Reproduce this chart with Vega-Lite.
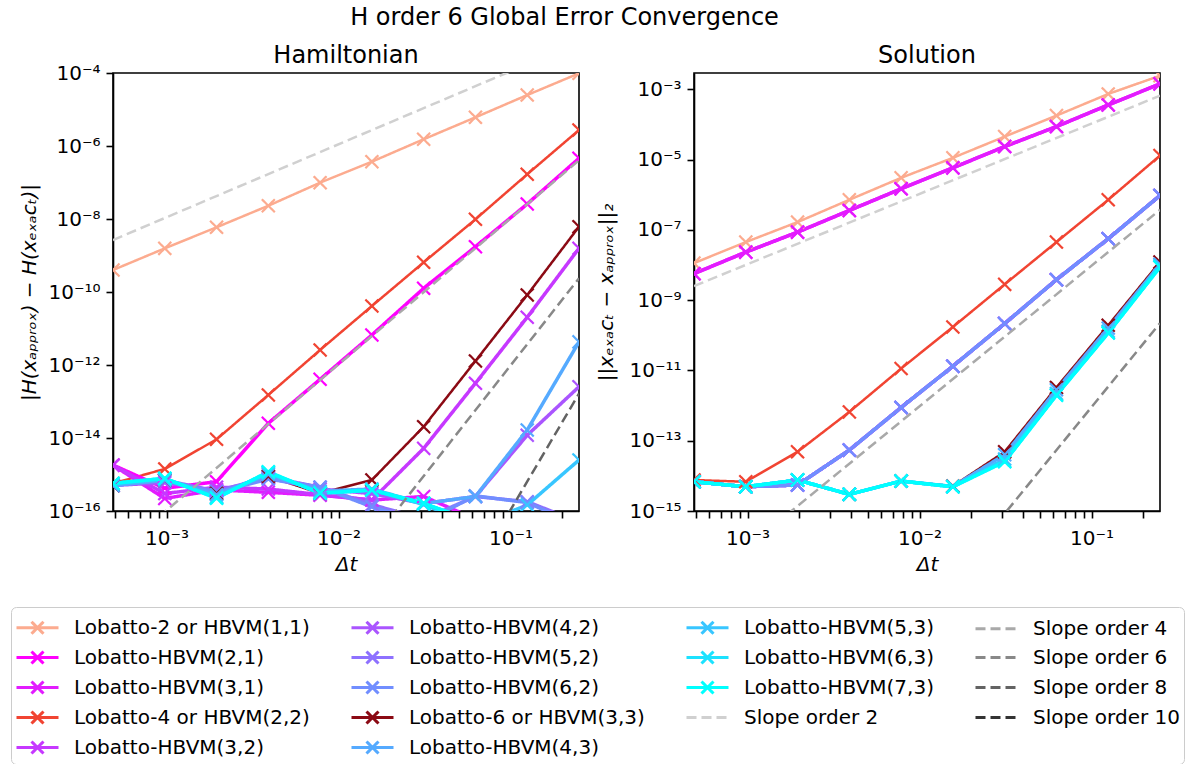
{
"$schema": "https://vega.github.io/schema/vega-lite/v6.json",
"background": "white",
"padding": {"left": 10, "top": 6, "right": 0, "bottom": 0},
"bounds": "flush",
"spacing": 115,
"title": {"text": "H order 6 Global Error Convergence", "fontSize": 24, "font": "DejaVu Sans", "fontWeight": "normal", "anchor": "middle", "dx": -33, "offset": 13, "color": "black"},
"config": {
  "font": "DejaVu Sans",
  "view": {"stroke": "black", "strokeWidth": 1.6},
  "axis": {"domainColor": "black", "domainWidth": 1.6, "tickColor": "black", "tickWidth": 1.6, "tickSize": 7, "labelFontSize": 20, "labelFont": "DejaVu Sans", "labelColor": "black", "titleFontSize": 20, "titleFont": "DejaVu Sans", "titleFontWeight": "normal", "titleColor": "black", "grid": false, "labelPadding": 6, "labelOverlap": false, "labelFlush": false},
  "title": {"fontSize": 24, "fontWeight": "normal", "font": "DejaVu Sans", "color": "black"}
},
"datasets": {
"H": [
{"series":"Lobatto-2 or HBVM(1,1)","dt":0.00048828125,"err":4.0e-10},{"series":"Lobatto-2 or HBVM(1,1)","dt":0.0009765625,"err":1.57e-9},{"series":"Lobatto-2 or HBVM(1,1)","dt":0.001953125,"err":5.93e-9},{"series":"Lobatto-2 or HBVM(1,1)","dt":0.00390625,"err":2.31e-8},{"series":"Lobatto-2 or HBVM(1,1)","dt":0.0078125,"err":9.9e-8},{"series":"Lobatto-2 or HBVM(1,1)","dt":0.015625,"err":3.72e-7},{"series":"Lobatto-2 or HBVM(1,1)","dt":0.03125,"err":1.53e-6},{"series":"Lobatto-2 or HBVM(1,1)","dt":0.0625,"err":6.1e-6},{"series":"Lobatto-2 or HBVM(1,1)","dt":0.125,"err":2.49e-5},{"series":"Lobatto-2 or HBVM(1,1)","dt":0.25,"err":9.8e-5},
{"series":"Lobatto-HBVM(2,1)","dt":0.00048828125,"err":1.82e-15},{"series":"Lobatto-HBVM(2,1)","dt":0.0009765625,"err":4.2e-16},{"series":"Lobatto-HBVM(2,1)","dt":0.001953125,"err":6.35e-16},{"series":"Lobatto-HBVM(2,1)","dt":0.00390625,"err":2.53e-14},{"series":"Lobatto-HBVM(2,1)","dt":0.0078125,"err":4.06e-13},{"series":"Lobatto-HBVM(2,1)","dt":0.015625,"err":6.64e-12},{"series":"Lobatto-HBVM(2,1)","dt":0.03125,"err":1.26e-10},{"series":"Lobatto-HBVM(2,1)","dt":0.0625,"err":1.74e-9},{"series":"Lobatto-HBVM(2,1)","dt":0.125,"err":2.58e-8},{"series":"Lobatto-HBVM(2,1)","dt":0.25,"err":4.6e-7},
{"series":"Lobatto-HBVM(3,1)","dt":0.00048828125,"err":1.8e-15},{"series":"Lobatto-HBVM(3,1)","dt":0.0009765625,"err":2.2e-16},{"series":"Lobatto-HBVM(3,1)","dt":0.001953125,"err":3.8e-16},{"series":"Lobatto-HBVM(3,1)","dt":0.00390625,"err":3.25e-16},{"series":"Lobatto-HBVM(3,1)","dt":0.0078125,"err":2.7e-16},{"series":"Lobatto-HBVM(3,1)","dt":0.015625,"err":2.0e-16},{"series":"Lobatto-HBVM(3,1)","dt":0.03125,"err":2.5e-16},{"series":"Lobatto-HBVM(3,1)","dt":0.0625,"err":6e-17},{"series":"Lobatto-HBVM(3,1)","dt":0.125,"err":4e-17},{"series":"Lobatto-HBVM(3,1)","dt":0.25,"err":3e-17},
{"series":"Lobatto-4 or HBVM(2,2)","dt":0.00048828125,"err":5.7e-16},{"series":"Lobatto-4 or HBVM(2,2)","dt":0.0009765625,"err":1.42e-15},{"series":"Lobatto-4 or HBVM(2,2)","dt":0.001953125,"err":9.2e-15},{"series":"Lobatto-4 or HBVM(2,2)","dt":0.00390625,"err":1.51e-13},{"series":"Lobatto-4 or HBVM(2,2)","dt":0.0078125,"err":2.58e-12},{"series":"Lobatto-4 or HBVM(2,2)","dt":0.015625,"err":4.13e-11},{"series":"Lobatto-4 or HBVM(2,2)","dt":0.03125,"err":6.5e-10},{"series":"Lobatto-4 or HBVM(2,2)","dt":0.0625,"err":9.8e-9},{"series":"Lobatto-4 or HBVM(2,2)","dt":0.125,"err":1.68e-7},{"series":"Lobatto-4 or HBVM(2,2)","dt":0.25,"err":2.74e-6},
{"series":"Lobatto-HBVM(3,2)","dt":0.00048828125,"err":1.8e-15},{"series":"Lobatto-HBVM(3,2)","dt":0.0009765625,"err":3.0e-16},{"series":"Lobatto-HBVM(3,2)","dt":0.001953125,"err":4.5e-16},{"series":"Lobatto-HBVM(3,2)","dt":0.00390625,"err":4.0e-16},{"series":"Lobatto-HBVM(3,2)","dt":0.0078125,"err":2.8e-16},{"series":"Lobatto-HBVM(3,2)","dt":0.015625,"err":2.0e-16},{"series":"Lobatto-HBVM(3,2)","dt":0.03125,"err":5.2e-15},{"series":"Lobatto-HBVM(3,2)","dt":0.0625,"err":3.16e-13},{"series":"Lobatto-HBVM(3,2)","dt":0.125,"err":2.03e-11},{"series":"Lobatto-HBVM(3,2)","dt":0.25,"err":1.57e-9},
{"series":"Lobatto-HBVM(4,2)","dt":0.00048828125,"err":5e-16},{"series":"Lobatto-HBVM(4,2)","dt":0.0009765625,"err":6e-16},{"series":"Lobatto-HBVM(4,2)","dt":0.001953125,"err":3.5e-16},{"series":"Lobatto-HBVM(4,2)","dt":0.00390625,"err":8e-16},{"series":"Lobatto-HBVM(4,2)","dt":0.0078125,"err":4e-16},{"series":"Lobatto-HBVM(4,2)","dt":0.015625,"err":3e-16},{"series":"Lobatto-HBVM(4,2)","dt":0.03125,"err":1.6e-16},{"series":"Lobatto-HBVM(4,2)","dt":0.0625,"err":2.5e-16},{"series":"Lobatto-HBVM(4,2)","dt":0.125,"err":1.19e-14},{"series":"Lobatto-HBVM(4,2)","dt":0.25,"err":2.54e-13},
{"series":"Lobatto-HBVM(5,2)","dt":0.00048828125,"err":5e-16},{"series":"Lobatto-HBVM(5,2)","dt":0.0009765625,"err":7e-16},{"series":"Lobatto-HBVM(5,2)","dt":0.001953125,"err":3.5e-16},{"series":"Lobatto-HBVM(5,2)","dt":0.00390625,"err":8.5e-16},{"series":"Lobatto-HBVM(5,2)","dt":0.0078125,"err":4.5e-16},{"series":"Lobatto-HBVM(5,2)","dt":0.015625,"err":1.5e-16},{"series":"Lobatto-HBVM(5,2)","dt":0.03125,"err":6e-17},{"series":"Lobatto-HBVM(5,2)","dt":0.0625,"err":2.5e-16},{"series":"Lobatto-HBVM(5,2)","dt":0.125,"err":1.8e-16},{"series":"Lobatto-HBVM(5,2)","dt":0.25,"err":5e-17},
{"series":"Lobatto-HBVM(6,2)","dt":0.00048828125,"err":5e-16},{"series":"Lobatto-HBVM(6,2)","dt":0.0009765625,"err":7e-16},{"series":"Lobatto-HBVM(6,2)","dt":0.001953125,"err":3.2e-16},{"series":"Lobatto-HBVM(6,2)","dt":0.00390625,"err":7.5e-16},{"series":"Lobatto-HBVM(6,2)","dt":0.0078125,"err":4.5e-16},{"series":"Lobatto-HBVM(6,2)","dt":0.015625,"err":1.3e-16},{"series":"Lobatto-HBVM(6,2)","dt":0.03125,"err":5e-17},{"series":"Lobatto-HBVM(6,2)","dt":0.0625,"err":2.6e-16},{"series":"Lobatto-HBVM(6,2)","dt":0.125,"err":1.7e-16},{"series":"Lobatto-HBVM(6,2)","dt":0.25,"err":4e-17},
{"series":"Lobatto-6 or HBVM(3,3)","dt":0.00048828125,"err":5e-16},{"series":"Lobatto-6 or HBVM(3,3)","dt":0.0009765625,"err":7e-16},{"series":"Lobatto-6 or HBVM(3,3)","dt":0.001953125,"err":3e-16},{"series":"Lobatto-6 or HBVM(3,3)","dt":0.00390625,"err":9e-16},{"series":"Lobatto-6 or HBVM(3,3)","dt":0.0078125,"err":3.05e-16},{"series":"Lobatto-6 or HBVM(3,3)","dt":0.015625,"err":7.1e-16},{"series":"Lobatto-6 or HBVM(3,3)","dt":0.03125,"err":2.04e-14},{"series":"Lobatto-6 or HBVM(3,3)","dt":0.0625,"err":1.29e-12},{"series":"Lobatto-6 or HBVM(3,3)","dt":0.125,"err":8.3e-11},{"series":"Lobatto-6 or HBVM(3,3)","dt":0.25,"err":6.15e-9},
{"series":"Lobatto-HBVM(4,3)","dt":0.00048828125,"err":5e-16},{"series":"Lobatto-HBVM(4,3)","dt":0.0009765625,"err":7e-16},{"series":"Lobatto-HBVM(4,3)","dt":0.001953125,"err":2.8e-16},{"series":"Lobatto-HBVM(4,3)","dt":0.00390625,"err":1.0e-15},{"series":"Lobatto-HBVM(4,3)","dt":0.0078125,"err":3.5e-16},{"series":"Lobatto-HBVM(4,3)","dt":0.015625,"err":4.0e-16},{"series":"Lobatto-HBVM(4,3)","dt":0.03125,"err":1.6e-16},{"series":"Lobatto-HBVM(4,3)","dt":0.0625,"err":2.5e-16},{"series":"Lobatto-HBVM(4,3)","dt":0.125,"err":1.66e-14},{"series":"Lobatto-HBVM(4,3)","dt":0.25,"err":4.3e-12},
{"series":"Lobatto-HBVM(5,3)","dt":0.00048828125,"err":5.5e-16},{"series":"Lobatto-HBVM(5,3)","dt":0.0009765625,"err":7.5e-16},{"series":"Lobatto-HBVM(5,3)","dt":0.001953125,"err":2.4e-16},{"series":"Lobatto-HBVM(5,3)","dt":0.00390625,"err":1.1e-15},{"series":"Lobatto-HBVM(5,3)","dt":0.0078125,"err":3.2e-16},{"series":"Lobatto-HBVM(5,3)","dt":0.015625,"err":3.8e-16},{"series":"Lobatto-HBVM(5,3)","dt":0.03125,"err":1.5e-16},{"series":"Lobatto-HBVM(5,3)","dt":0.0625,"err":4e-17},{"series":"Lobatto-HBVM(5,3)","dt":0.125,"err":1.46e-16},{"series":"Lobatto-HBVM(5,3)","dt":0.25,"err":2.5e-15},
{"series":"Lobatto-HBVM(6,3)","dt":0.00048828125,"err":5.7e-16},{"series":"Lobatto-HBVM(6,3)","dt":0.0009765625,"err":7.8e-16},{"series":"Lobatto-HBVM(6,3)","dt":0.001953125,"err":2.3e-16},{"series":"Lobatto-HBVM(6,3)","dt":0.00390625,"err":1.15e-15},{"series":"Lobatto-HBVM(6,3)","dt":0.0078125,"err":3.1e-16},{"series":"Lobatto-HBVM(6,3)","dt":0.015625,"err":3.7e-16},{"series":"Lobatto-HBVM(6,3)","dt":0.03125,"err":1.6e-16},{"series":"Lobatto-HBVM(6,3)","dt":0.0625,"err":5e-17},{"series":"Lobatto-HBVM(6,3)","dt":0.125,"err":3e-17},{"series":"Lobatto-HBVM(6,3)","dt":0.25,"err":2e-17},
{"series":"Lobatto-HBVM(7,3)","dt":0.00048828125,"err":5.74e-16},{"series":"Lobatto-HBVM(7,3)","dt":0.0009765625,"err":7.87e-16},{"series":"Lobatto-HBVM(7,3)","dt":0.001953125,"err":2.23e-16},{"series":"Lobatto-HBVM(7,3)","dt":0.00390625,"err":1.19e-15},{"series":"Lobatto-HBVM(7,3)","dt":0.0078125,"err":3.05e-16},{"series":"Lobatto-HBVM(7,3)","dt":0.015625,"err":3.76e-16},{"series":"Lobatto-HBVM(7,3)","dt":0.03125,"err":1.63e-16},{"series":"Lobatto-HBVM(7,3)","dt":0.0625,"err":5e-17},{"series":"Lobatto-HBVM(7,3)","dt":0.125,"err":3e-17},{"series":"Lobatto-HBVM(7,3)","dt":0.25,"err":2e-17},
{"series":"Slope order 2","dt":0.00048828125,"err":2.66e-9},{"series":"Slope order 2","dt":0.25,"err":6.97e-4},
{"series":"Slope order 4","dt":0.00048828125,"err":5.92e-18},{"series":"Slope order 4","dt":0.25,"err":4.06e-7},
{"series":"Slope order 6","dt":0.00048828125,"err":1.32e-26},{"series":"Slope order 6","dt":0.25,"err":2.37e-10},
{"series":"Slope order 8","dt":0.00048828125,"err":3.47e-35},{"series":"Slope order 8","dt":0.25,"err":1.64e-13},
{"series":"Slope order 10","dt":0.00048828125,"err":2.57e-44},{"series":"Slope order 10","dt":0.25,"err":3.16e-17}
],
"S": [
{"series":"Lobatto-2 or HBVM(1,1)","dt":0.00048828125,"err":1.13e-8},{"series":"Lobatto-2 or HBVM(1,1)","dt":0.0009765625,"err":4.48e-8},{"series":"Lobatto-2 or HBVM(1,1)","dt":0.001953125,"err":1.66e-7},{"series":"Lobatto-2 or HBVM(1,1)","dt":0.00390625,"err":7.16e-7},{"series":"Lobatto-2 or HBVM(1,1)","dt":0.0078125,"err":3.02e-6},{"series":"Lobatto-2 or HBVM(1,1)","dt":0.015625,"err":1.12e-5},{"series":"Lobatto-2 or HBVM(1,1)","dt":0.03125,"err":4.5e-5},{"series":"Lobatto-2 or HBVM(1,1)","dt":0.0625,"err":1.78e-4},{"series":"Lobatto-2 or HBVM(1,1)","dt":0.125,"err":7.35e-4},{"series":"Lobatto-2 or HBVM(1,1)","dt":0.25,"err":2.43e-3},
{"series":"Lobatto-HBVM(2,1)","dt":0.00048828125,"err":5.66e-9},{"series":"Lobatto-HBVM(2,1)","dt":0.0009765625,"err":2.32e-8},{"series":"Lobatto-HBVM(2,1)","dt":0.001953125,"err":8.6e-8},{"series":"Lobatto-HBVM(2,1)","dt":0.00390625,"err":3.56e-7},{"series":"Lobatto-HBVM(2,1)","dt":0.0078125,"err":1.47e-6},{"series":"Lobatto-HBVM(2,1)","dt":0.015625,"err":5.8e-6},{"series":"Lobatto-HBVM(2,1)","dt":0.03125,"err":2.34e-5},{"series":"Lobatto-HBVM(2,1)","dt":0.0625,"err":8.67e-5},{"series":"Lobatto-HBVM(2,1)","dt":0.125,"err":3.58e-4},{"series":"Lobatto-HBVM(2,1)","dt":0.25,"err":1.42e-3},
{"series":"Lobatto-HBVM(3,1)","dt":0.00048828125,"err":5.66e-9},{"series":"Lobatto-HBVM(3,1)","dt":0.0009765625,"err":2.32e-8},{"series":"Lobatto-HBVM(3,1)","dt":0.001953125,"err":8.6e-8},{"series":"Lobatto-HBVM(3,1)","dt":0.00390625,"err":3.56e-7},{"series":"Lobatto-HBVM(3,1)","dt":0.0078125,"err":1.47e-6},{"series":"Lobatto-HBVM(3,1)","dt":0.015625,"err":5.8e-6},{"series":"Lobatto-HBVM(3,1)","dt":0.03125,"err":2.34e-5},{"series":"Lobatto-HBVM(3,1)","dt":0.0625,"err":8.67e-5},{"series":"Lobatto-HBVM(3,1)","dt":0.125,"err":3.58e-4},{"series":"Lobatto-HBVM(3,1)","dt":0.25,"err":1.42e-3},
{"series":"Lobatto-4 or HBVM(2,2)","dt":0.00048828125,"err":7.6e-15},{"series":"Lobatto-4 or HBVM(2,2)","dt":0.0009765625,"err":6.8e-15},{"series":"Lobatto-4 or HBVM(2,2)","dt":0.001953125,"err":4.84e-14},{"series":"Lobatto-4 or HBVM(2,2)","dt":0.00390625,"err":6.6e-13},{"series":"Lobatto-4 or HBVM(2,2)","dt":0.0078125,"err":1.13e-11},{"series":"Lobatto-4 or HBVM(2,2)","dt":0.015625,"err":1.72e-10},{"series":"Lobatto-4 or HBVM(2,2)","dt":0.03125,"err":2.81e-9},{"series":"Lobatto-4 or HBVM(2,2)","dt":0.0625,"err":4.48e-8},{"series":"Lobatto-4 or HBVM(2,2)","dt":0.125,"err":7.16e-7},{"series":"Lobatto-4 or HBVM(2,2)","dt":0.25,"err":1.3e-5},
{"series":"Lobatto-HBVM(3,2)","dt":0.00048828125,"err":6.8e-15},{"series":"Lobatto-HBVM(3,2)","dt":0.0009765625,"err":4.9e-15},{"series":"Lobatto-HBVM(3,2)","dt":0.001953125,"err":5.5e-15},{"series":"Lobatto-HBVM(3,2)","dt":0.00390625,"err":5.4e-14},{"series":"Lobatto-HBVM(3,2)","dt":0.0078125,"err":8.8e-13},{"series":"Lobatto-HBVM(3,2)","dt":0.015625,"err":1.32e-11},{"series":"Lobatto-HBVM(3,2)","dt":0.03125,"err":2.15e-10},{"series":"Lobatto-HBVM(3,2)","dt":0.0625,"err":3.82e-9},{"series":"Lobatto-HBVM(3,2)","dt":0.125,"err":5.58e-8},{"series":"Lobatto-HBVM(3,2)","dt":0.25,"err":9.5e-7},
{"series":"Lobatto-HBVM(4,2)","dt":0.00048828125,"err":6.8e-15},{"series":"Lobatto-HBVM(4,2)","dt":0.0009765625,"err":4.9e-15},{"series":"Lobatto-HBVM(4,2)","dt":0.001953125,"err":5.5e-15},{"series":"Lobatto-HBVM(4,2)","dt":0.00390625,"err":5.4e-14},{"series":"Lobatto-HBVM(4,2)","dt":0.0078125,"err":8.8e-13},{"series":"Lobatto-HBVM(4,2)","dt":0.015625,"err":1.32e-11},{"series":"Lobatto-HBVM(4,2)","dt":0.03125,"err":2.15e-10},{"series":"Lobatto-HBVM(4,2)","dt":0.0625,"err":3.82e-9},{"series":"Lobatto-HBVM(4,2)","dt":0.125,"err":5.58e-8},{"series":"Lobatto-HBVM(4,2)","dt":0.25,"err":9.5e-7},
{"series":"Lobatto-HBVM(5,2)","dt":0.00048828125,"err":6.8e-15},{"series":"Lobatto-HBVM(5,2)","dt":0.0009765625,"err":4.9e-15},{"series":"Lobatto-HBVM(5,2)","dt":0.001953125,"err":5.5e-15},{"series":"Lobatto-HBVM(5,2)","dt":0.00390625,"err":5.4e-14},{"series":"Lobatto-HBVM(5,2)","dt":0.0078125,"err":8.8e-13},{"series":"Lobatto-HBVM(5,2)","dt":0.015625,"err":1.32e-11},{"series":"Lobatto-HBVM(5,2)","dt":0.03125,"err":2.15e-10},{"series":"Lobatto-HBVM(5,2)","dt":0.0625,"err":3.82e-9},{"series":"Lobatto-HBVM(5,2)","dt":0.125,"err":5.58e-8},{"series":"Lobatto-HBVM(5,2)","dt":0.25,"err":9.5e-7},
{"series":"Lobatto-HBVM(6,2)","dt":0.00048828125,"err":6.8e-15},{"series":"Lobatto-HBVM(6,2)","dt":0.0009765625,"err":4.9e-15},{"series":"Lobatto-HBVM(6,2)","dt":0.001953125,"err":5.5e-15},{"series":"Lobatto-HBVM(6,2)","dt":0.00390625,"err":5.4e-14},{"series":"Lobatto-HBVM(6,2)","dt":0.0078125,"err":8.8e-13},{"series":"Lobatto-HBVM(6,2)","dt":0.015625,"err":1.32e-11},{"series":"Lobatto-HBVM(6,2)","dt":0.03125,"err":2.15e-10},{"series":"Lobatto-HBVM(6,2)","dt":0.0625,"err":3.82e-9},{"series":"Lobatto-HBVM(6,2)","dt":0.125,"err":5.58e-8},{"series":"Lobatto-HBVM(6,2)","dt":0.25,"err":9.5e-7},
{"series":"Lobatto-6 or HBVM(3,3)","dt":0.00048828125,"err":6.8e-15},{"series":"Lobatto-6 or HBVM(3,3)","dt":0.0009765625,"err":4.9e-15},{"series":"Lobatto-6 or HBVM(3,3)","dt":0.001953125,"err":7.6e-15},{"series":"Lobatto-6 or HBVM(3,3)","dt":0.00390625,"err":2.98e-15},{"series":"Lobatto-6 or HBVM(3,3)","dt":0.0078125,"err":7.1e-15},{"series":"Lobatto-6 or HBVM(3,3)","dt":0.015625,"err":5.1e-15},{"series":"Lobatto-6 or HBVM(3,3)","dt":0.03125,"err":4.84e-14},{"series":"Lobatto-6 or HBVM(3,3)","dt":0.0625,"err":3.27e-12},{"series":"Lobatto-6 or HBVM(3,3)","dt":0.125,"err":1.92e-10},{"series":"Lobatto-6 or HBVM(3,3)","dt":0.25,"err":1.21e-8},
{"series":"Lobatto-HBVM(4,3)","dt":0.00048828125,"err":6.8e-15},{"series":"Lobatto-HBVM(4,3)","dt":0.0009765625,"err":4.9e-15},{"series":"Lobatto-HBVM(4,3)","dt":0.001953125,"err":7.6e-15},{"series":"Lobatto-HBVM(4,3)","dt":0.00390625,"err":2.98e-15},{"series":"Lobatto-HBVM(4,3)","dt":0.0078125,"err":7.1e-15},{"series":"Lobatto-HBVM(4,3)","dt":0.015625,"err":5.0e-15},{"series":"Lobatto-HBVM(4,3)","dt":0.03125,"err":4.0e-14},{"series":"Lobatto-HBVM(4,3)","dt":0.0625,"err":2.8e-12},{"series":"Lobatto-HBVM(4,3)","dt":0.125,"err":1.6e-10},{"series":"Lobatto-HBVM(4,3)","dt":0.25,"err":1.05e-8},
{"series":"Lobatto-HBVM(5,3)","dt":0.00048828125,"err":6.8e-15},{"series":"Lobatto-HBVM(5,3)","dt":0.0009765625,"err":4.9e-15},{"series":"Lobatto-HBVM(5,3)","dt":0.001953125,"err":7.6e-15},{"series":"Lobatto-HBVM(5,3)","dt":0.00390625,"err":2.98e-15},{"series":"Lobatto-HBVM(5,3)","dt":0.0078125,"err":7.1e-15},{"series":"Lobatto-HBVM(5,3)","dt":0.015625,"err":4.9e-15},{"series":"Lobatto-HBVM(5,3)","dt":0.03125,"err":3.0e-14},{"series":"Lobatto-HBVM(5,3)","dt":0.0625,"err":2.2e-12},{"series":"Lobatto-HBVM(5,3)","dt":0.125,"err":1.3e-10},{"series":"Lobatto-HBVM(5,3)","dt":0.25,"err":9.5e-9},
{"series":"Lobatto-HBVM(6,3)","dt":0.00048828125,"err":6.8e-15},{"series":"Lobatto-HBVM(6,3)","dt":0.0009765625,"err":4.9e-15},{"series":"Lobatto-HBVM(6,3)","dt":0.001953125,"err":7.6e-15},{"series":"Lobatto-HBVM(6,3)","dt":0.00390625,"err":2.98e-15},{"series":"Lobatto-HBVM(6,3)","dt":0.0078125,"err":7.1e-15},{"series":"Lobatto-HBVM(6,3)","dt":0.015625,"err":4.9e-15},{"series":"Lobatto-HBVM(6,3)","dt":0.03125,"err":2.6e-14},{"series":"Lobatto-HBVM(6,3)","dt":0.0625,"err":2.0e-12},{"series":"Lobatto-HBVM(6,3)","dt":0.125,"err":1.18e-10},{"series":"Lobatto-HBVM(6,3)","dt":0.25,"err":8.8e-9},
{"series":"Lobatto-HBVM(7,3)","dt":0.00048828125,"err":6.8e-15},{"series":"Lobatto-HBVM(7,3)","dt":0.0009765625,"err":4.9e-15},{"series":"Lobatto-HBVM(7,3)","dt":0.001953125,"err":7.6e-15},{"series":"Lobatto-HBVM(7,3)","dt":0.00390625,"err":2.98e-15},{"series":"Lobatto-HBVM(7,3)","dt":0.0078125,"err":7.1e-15},{"series":"Lobatto-HBVM(7,3)","dt":0.015625,"err":4.9e-15},{"series":"Lobatto-HBVM(7,3)","dt":0.03125,"err":2.52e-14},{"series":"Lobatto-HBVM(7,3)","dt":0.0625,"err":1.97e-12},{"series":"Lobatto-HBVM(7,3)","dt":0.125,"err":1.16e-10},{"series":"Lobatto-HBVM(7,3)","dt":0.25,"err":8.7e-9},
{"series":"Slope order 2","dt":0.00048828125,"err":2.51e-9},{"series":"Slope order 2","dt":0.25,"err":6.58e-4},
{"series":"Slope order 4","dt":0.00048828125,"err":5.42e-18},{"series":"Slope order 4","dt":0.25,"err":3.72e-7},
{"series":"Slope order 6","dt":0.00048828125,"err":1.23e-26},{"series":"Slope order 6","dt":0.25,"err":2.21e-10}
]
},
"hconcat": [
{
  "width": 466, "height": 438,
  "title": {"text": "Hamiltonian", "offset": -5},
  "data": {"name": "H"},
  "encoding": {
    "x": {"field": "dt", "type": "quantitative", "scale": {"type": "log", "domain": [0.00048828125, 0.25], "nice": false},
      "axis": {"title": "Δt", "titleFontStyle": "italic", "titlePadding": 6, "labelPadding": 10,
        "values": [0.0005,0.0006,0.0007,0.0008,0.0009,0.001,0.002,0.003,0.004,0.005,0.006,0.007,0.008,0.009,0.01,0.02,0.03,0.04,0.05,0.06,0.07,0.08,0.09,0.1,0.2],
        "labelExpr": "abs(datum.value - 0.001) < 1e-9 ? '10⁻³' : abs(datum.value - 0.01) < 1e-8 ? '10⁻²' : abs(datum.value - 0.1) < 1e-7 ? '10⁻¹' : ''",
        "encode": {"ticks": {
          "y2": {"condition": {"test": "abs(datum.value - 0.001) < 1e-9 || abs(datum.value - 0.01) < 1e-8 || abs(datum.value - 0.1) < 1e-7", "value": 7}, "value": 4},
          "strokeWidth": {"condition": {"test": "abs(datum.value - 0.001) < 1e-9 || abs(datum.value - 0.01) < 1e-8 || abs(datum.value - 0.1) < 1e-7", "value": 1.6}, "value": 1.2}}}}},
    "y": {"field": "err", "type": "quantitative", "scale": {"type": "log", "domain": [1e-16, 1e-4], "nice": false},
      "axis": {"title": "|H(xₐₚₚᵣₒₓ) − H(xₑₓₐcₜ)|", "titleFontStyle": "italic", "titlePadding": 8,
        "values": [1e-16,1e-14,1e-12,1e-10,1e-8,1e-6,1e-4],
        "labelExpr": "datum.value < 1e-15 ? '10⁻¹⁶' : datum.value < 1e-13 ? '10⁻¹⁴' : datum.value < 1e-11 ? '10⁻¹²' : datum.value < 1e-9 ? '10⁻¹⁰' : datum.value < 1e-7 ? '10⁻⁸' : datum.value < 1e-5 ? '10⁻⁶' : '10⁻⁴'"}},
    "color": {"field": "series", "type": "nominal",
      "scale": {"domain": ["Lobatto-2 or HBVM(1,1)","Lobatto-HBVM(2,1)","Lobatto-HBVM(3,1)","Lobatto-4 or HBVM(2,2)","Lobatto-HBVM(3,2)","Lobatto-HBVM(4,2)","Lobatto-HBVM(5,2)","Lobatto-HBVM(6,2)","Lobatto-6 or HBVM(3,3)","Lobatto-HBVM(4,3)","Lobatto-HBVM(5,3)","Lobatto-HBVM(6,3)","Lobatto-HBVM(7,3)","Slope order 2"," ","Slope order 4","Slope order 6","Slope order 8","Slope order 10"],
        "range": ["#fcab8f","#ff00ff","#e21cff","#f14432","#c638ff","#aa55ff","#8e71ff","#718eff","#8b0a14","#55aaff","#38c6ff","#1ce2ff","#00ffff","#d0d0d0","#ffffff","#a9a9a9","#888888","#636363","#333333"]},
      "legend": {"orient": "none", "legendX": -102, "legendY": 534, "columns": 4, "title": null,
        "values": ["Lobatto-2 or HBVM(1,1)","Lobatto-HBVM(2,1)","Lobatto-HBVM(3,1)","Lobatto-4 or HBVM(2,2)","Lobatto-HBVM(3,2)","Lobatto-HBVM(4,2)","Lobatto-HBVM(5,2)","Lobatto-HBVM(6,2)","Lobatto-6 or HBVM(3,3)","Lobatto-HBVM(4,3)","Lobatto-HBVM(5,3)","Lobatto-HBVM(6,3)","Lobatto-HBVM(7,3)","Slope order 2"," ","Slope order 4","Slope order 6","Slope order 8","Slope order 10"],
        "labelFontSize": 20, "labelFont": "DejaVu Sans", "labelColor": "black", "labelLimit": 500,
        "symbolSize": 900, "symbolStrokeWidth": 3, "symbolLimit": 0, "symbolFillColor": "transparent",
        "rowPadding": 1, "columnPadding": 35, "labelOffset": 26, "padding": 4,
        "strokeColor": "#cccccc", "cornerRadius": 5, "fillColor": "white"}},
    "strokeDash": {"field": "series", "type": "nominal",
      "scale": {"domain": ["Lobatto-2 or HBVM(1,1)","Lobatto-HBVM(2,1)","Lobatto-HBVM(3,1)","Lobatto-4 or HBVM(2,2)","Lobatto-HBVM(3,2)","Lobatto-HBVM(4,2)","Lobatto-HBVM(5,2)","Lobatto-HBVM(6,2)","Lobatto-6 or HBVM(3,3)","Lobatto-HBVM(4,3)","Lobatto-HBVM(5,3)","Lobatto-HBVM(6,3)","Lobatto-HBVM(7,3)","Slope order 2"," ","Slope order 4","Slope order 6","Slope order 8","Slope order 10"],
        "range": [[1,0],[1,0],[1,0],[1,0],[1,0],[1,0],[1,0],[1,0],[1,0],[1,0],[1,0],[1,0],[1,0],[10,5],[1,0],[10,5],[10,5],[10,5],[10,5]]},
      "legend": null}
  },
  "layer": [
    {"transform": [{"filter": {"field": "series", "oneOf": ["Lobatto-2 or HBVM(1,1)","Lobatto-4 or HBVM(2,2)","Lobatto-6 or HBVM(3,3)"]}}],
     "mark": {"type": "line", "clip": true, "strokeWidth": 2.5}},
    {"transform": [{"filter": {"field": "series", "oneOf": ["Lobatto-HBVM(2,1)","Lobatto-HBVM(3,1)","Lobatto-HBVM(3,2)","Lobatto-HBVM(4,2)","Lobatto-HBVM(5,2)","Lobatto-HBVM(6,2)","Lobatto-HBVM(4,3)","Lobatto-HBVM(5,3)","Lobatto-HBVM(6,3)","Lobatto-HBVM(7,3)"]}}],
     "mark": {"type": "line", "clip": true, "strokeWidth": 3.5}},
    {"transform": [{"filter": {"not": {"field": "series", "oneOf": ["Slope order 2","Slope order 4","Slope order 6","Slope order 8","Slope order 10"]}}}],
     "mark": {"type": "point", "clip": true, "shape": "M-1,-1L1,1M-1,1L1,-1", "size": 169, "filled": false, "strokeWidth": 2.2, "opacity": 1}},
    {"transform": [{"filter": {"field": "series", "oneOf": ["Slope order 2","Slope order 4","Slope order 6","Slope order 8","Slope order 10"]}}],
     "mark": {"type": "line", "clip": true, "strokeWidth": 2.5}},
    {"transform": [{"filter": "datum.dt < 0"}],
     "mark": {"type": "point", "filled": false, "strokeWidth": 3},
     "encoding": {"shape": {"field": "series", "type": "nominal",
       "scale": {"domain": ["Lobatto-2 or HBVM(1,1)","Lobatto-HBVM(2,1)","Lobatto-HBVM(3,1)","Lobatto-4 or HBVM(2,2)","Lobatto-HBVM(3,2)","Lobatto-HBVM(4,2)","Lobatto-HBVM(5,2)","Lobatto-HBVM(6,2)","Lobatto-6 or HBVM(3,3)","Lobatto-HBVM(4,3)","Lobatto-HBVM(5,3)","Lobatto-HBVM(6,3)","Lobatto-HBVM(7,3)","Slope order 2"," ","Slope order 4","Slope order 6","Slope order 8","Slope order 10"],
         "range": ["M-1,0H1.8M0,-0.4L0.8,0.4M0,0.4L0.8,-0.4","M-1,0H1.8M0,-0.4L0.8,0.4M0,0.4L0.8,-0.4","M-1,0H1.8M0,-0.4L0.8,0.4M0,0.4L0.8,-0.4","M-1,0H1.8M0,-0.4L0.8,0.4M0,0.4L0.8,-0.4","M-1,0H1.8M0,-0.4L0.8,0.4M0,0.4L0.8,-0.4","M-1,0H1.8M0,-0.4L0.8,0.4M0,0.4L0.8,-0.4","M-1,0H1.8M0,-0.4L0.8,0.4M0,0.4L0.8,-0.4","M-1,0H1.8M0,-0.4L0.8,0.4M0,0.4L0.8,-0.4","M-1,0H1.8M0,-0.4L0.8,0.4M0,0.4L0.8,-0.4","M-1,0H1.8M0,-0.4L0.8,0.4M0,0.4L0.8,-0.4","M-1,0H1.8M0,-0.4L0.8,0.4M0,0.4L0.8,-0.4","M-1,0H1.8M0,-0.4L0.8,0.4M0,0.4L0.8,-0.4","M-1,0H1.8M0,-0.4L0.8,0.4M0,0.4L0.8,-0.4","M-1,0H1.8","M0,0","M-1,0H1.8","M-1,0H1.8","M-1,0H1.8","M-1,0H1.8"]},
       "legend": {"orient": "none", "legendX": -102, "legendY": 534, "columns": 4, "title": null,
        "values": ["Lobatto-2 or HBVM(1,1)","Lobatto-HBVM(2,1)","Lobatto-HBVM(3,1)","Lobatto-4 or HBVM(2,2)","Lobatto-HBVM(3,2)","Lobatto-HBVM(4,2)","Lobatto-HBVM(5,2)","Lobatto-HBVM(6,2)","Lobatto-6 or HBVM(3,3)","Lobatto-HBVM(4,3)","Lobatto-HBVM(5,3)","Lobatto-HBVM(6,3)","Lobatto-HBVM(7,3)","Slope order 2"," ","Slope order 4","Slope order 6","Slope order 8","Slope order 10"],
        "labelFontSize": 20, "labelFont": "DejaVu Sans", "labelColor": "black", "labelLimit": 500,
        "symbolSize": 900, "symbolStrokeWidth": 3, "symbolLimit": 0, "symbolFillColor": "transparent",
        "rowPadding": 1, "columnPadding": 35, "labelOffset": 26, "padding": 4,
        "strokeColor": "#cccccc", "cornerRadius": 5, "fillColor": "white"}}}}
  ]
},
{
  "width": 466, "height": 438,
  "title": {"text": "Solution", "offset": 5},
  "data": {"name": "S"},
  "encoding": {
    "x": {"field": "dt", "type": "quantitative", "scale": {"type": "log", "domain": [0.00048828125, 0.25], "nice": false},
      "axis": {"title": "Δt", "titleFontStyle": "italic", "titlePadding": 6, "labelPadding": 10,
        "values": [0.0005,0.0006,0.0007,0.0008,0.0009,0.001,0.002,0.003,0.004,0.005,0.006,0.007,0.008,0.009,0.01,0.02,0.03,0.04,0.05,0.06,0.07,0.08,0.09,0.1,0.2],
        "labelExpr": "abs(datum.value - 0.001) < 1e-9 ? '10⁻³' : abs(datum.value - 0.01) < 1e-8 ? '10⁻²' : abs(datum.value - 0.1) < 1e-7 ? '10⁻¹' : ''",
        "encode": {"ticks": {
          "y2": {"condition": {"test": "abs(datum.value - 0.001) < 1e-9 || abs(datum.value - 0.01) < 1e-8 || abs(datum.value - 0.1) < 1e-7", "value": 7}, "value": 4},
          "strokeWidth": {"condition": {"test": "abs(datum.value - 0.001) < 1e-9 || abs(datum.value - 0.01) < 1e-8 || abs(datum.value - 0.1) < 1e-7", "value": 1.6}, "value": 1.2}}}}},
    "y": {"field": "err", "type": "quantitative", "scale": {"type": "log", "domain": [1e-15, 0.0029], "nice": false},
      "axis": {"title": "||xₑₓₐcₜ − xₐₚₚᵣₒₓ||₂", "titleFontStyle": "italic", "titlePadding": 12,
        "values": [1e-15,1e-13,1e-11,1e-9,1e-7,1e-5,1e-3],
        "labelExpr": "datum.value < 1e-14 ? '10⁻¹⁵' : datum.value < 1e-12 ? '10⁻¹³' : datum.value < 1e-10 ? '10⁻¹¹' : datum.value < 1e-8 ? '10⁻⁹' : datum.value < 1e-6 ? '10⁻⁷' : datum.value < 1e-4 ? '10⁻⁵' : '10⁻³'"}},
    "color": {"field": "series", "type": "nominal",
      "scale": {"domain": ["Lobatto-2 or HBVM(1,1)","Lobatto-HBVM(2,1)","Lobatto-HBVM(3,1)","Lobatto-4 or HBVM(2,2)","Lobatto-HBVM(3,2)","Lobatto-HBVM(4,2)","Lobatto-HBVM(5,2)","Lobatto-HBVM(6,2)","Lobatto-6 or HBVM(3,3)","Lobatto-HBVM(4,3)","Lobatto-HBVM(5,3)","Lobatto-HBVM(6,3)","Lobatto-HBVM(7,3)","Slope order 2"," ","Slope order 4","Slope order 6","Slope order 8","Slope order 10"],
        "range": ["#fcab8f","#ff00ff","#e21cff","#f14432","#c638ff","#aa55ff","#8e71ff","#718eff","#8b0a14","#55aaff","#38c6ff","#1ce2ff","#00ffff","#d0d0d0","#ffffff","#a9a9a9","#888888","#636363","#333333"]}},
    "strokeDash": {"field": "series", "type": "nominal",
      "scale": {"domain": ["Lobatto-2 or HBVM(1,1)","Lobatto-HBVM(2,1)","Lobatto-HBVM(3,1)","Lobatto-4 or HBVM(2,2)","Lobatto-HBVM(3,2)","Lobatto-HBVM(4,2)","Lobatto-HBVM(5,2)","Lobatto-HBVM(6,2)","Lobatto-6 or HBVM(3,3)","Lobatto-HBVM(4,3)","Lobatto-HBVM(5,3)","Lobatto-HBVM(6,3)","Lobatto-HBVM(7,3)","Slope order 2"," ","Slope order 4","Slope order 6","Slope order 8","Slope order 10"],
        "range": [[1,0],[1,0],[1,0],[1,0],[1,0],[1,0],[1,0],[1,0],[1,0],[1,0],[1,0],[1,0],[1,0],[10,5],[1,0],[10,5],[10,5],[10,5],[10,5]]},
      "legend": null}
  },
  "layer": [
    {"transform": [{"filter": {"field": "series", "oneOf": ["Lobatto-2 or HBVM(1,1)","Lobatto-4 or HBVM(2,2)","Lobatto-6 or HBVM(3,3)"]}}],
     "mark": {"type": "line", "clip": true, "strokeWidth": 2.5}},
    {"transform": [{"filter": {"field": "series", "oneOf": ["Lobatto-HBVM(2,1)","Lobatto-HBVM(3,1)","Lobatto-HBVM(3,2)","Lobatto-HBVM(4,2)","Lobatto-HBVM(5,2)","Lobatto-HBVM(6,2)","Lobatto-HBVM(4,3)","Lobatto-HBVM(5,3)","Lobatto-HBVM(6,3)","Lobatto-HBVM(7,3)"]}}],
     "mark": {"type": "line", "clip": true, "strokeWidth": 3.5}},
    {"transform": [{"filter": {"not": {"field": "series", "oneOf": ["Slope order 2","Slope order 4","Slope order 6","Slope order 8","Slope order 10"]}}}],
     "mark": {"type": "point", "clip": true, "shape": "M-1,-1L1,1M-1,1L1,-1", "size": 169, "filled": false, "strokeWidth": 2.2, "opacity": 1}},
    {"transform": [{"filter": {"field": "series", "oneOf": ["Slope order 2","Slope order 4","Slope order 6","Slope order 8","Slope order 10"]}}],
     "mark": {"type": "line", "clip": true, "strokeWidth": 2.5}}
  ]
}
]
}
